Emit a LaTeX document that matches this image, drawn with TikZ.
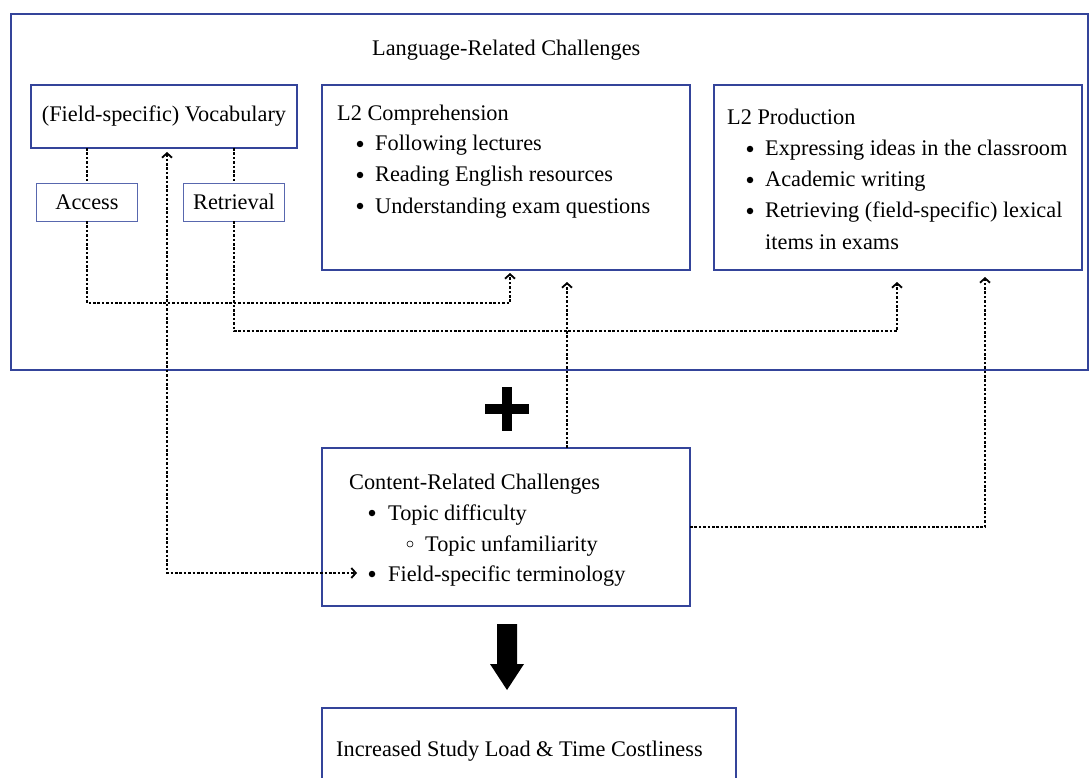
\documentclass[tikz,border=0pt]{standalone}
\usepackage{fontspec}
\setmainfont{Liberation Serif}
\usetikzlibrary{arrows.meta,calc}
\definecolor{boxblue}{HTML}{34449A}
\definecolor{lightblue}{HTML}{5867AE}
\begin{document}
\begin{tikzpicture}[x=1pt,y=-1pt,
  box/.style={draw=boxblue,line width=1.4pt,inner sep=0pt,outer sep=0pt},
  smallbox/.style={draw=lightblue,line width=0.9pt,inner sep=0pt,outer sep=0pt,font=\fontsize{22.3}{31}\selectfont},
  txt/.style={anchor=base west,inner sep=0pt,font=\fontsize{22.3}{31}\selectfont},
  barb/.tip={Straight Barb[length=4.5pt,width=10pt,line width=1.8pt]},
  dotline/.style={line width=2.6pt,dash pattern=on 2.6pt off 1.8pt},
  tip/.style={-barb},
  bul/.style={fill=black,circle,inner sep=0pt,minimum size=6.5pt},
  subbul/.style={draw=black,line width=0.6pt,circle,inner sep=0pt,minimum size=6pt}
]
\useasboundingbox (0,0) rectangle (1089,778);
\fill[white] (0,0) rectangle (1089,778);

% boxes
\node[box,minimum width=1077pt,minimum height=356pt] (outer) at (549.5,192) {};
\node[box,minimum width=266pt,minimum height=63pt,font=\fontsize{22.3}{31}\selectfont] (vocab) at (164,116.5) {(Field-specific) Vocabulary};
\node[smallbox,minimum width=101pt,minimum height=38pt] (access) at (87,202) {Access};
\node[smallbox,minimum width=101pt,minimum height=38pt] (retr) at (234,202) {Retrieval};
\node[box,minimum width=368pt,minimum height=185pt] (comp) at (506,177.5) {};
\node[box,minimum width=368pt,minimum height=185pt] (prod) at (898,177.5) {};
\node[box,minimum width=368pt,minimum height=158pt] (content) at (506,527) {};
\node[box,minimum width=414pt,minimum height=100pt] (final) at (529,758) {};

% texts
\node[txt] (title) at (372,56) {Language-Related Challenges};

\node[txt] (ct) at (337,121) {L2 Comprehension};
\node[txt] (c1) at (375,151) {Following lectures};
\node[txt] (c2) at (375,182) {Reading English resources};
\node[txt] (c3) at (375,213) {Understanding exam questions};
\node[bul] (cb1) at (360,144) {};
\node[bul] (cb2) at (360,175) {};
\node[bul] (cb3) at (360,206) {};

\node[txt] (pt) at (727,125) {L2 Production};
\node[txt] (p1) at (765,156) {Expressing ideas in the classroom};
\node[txt] (p2) at (765,187) {Academic writing};
\node[txt] (p3) at (765,218) {Retrieving (field-specific) lexical};
\node[txt] (p4) at (765,249) {items in exams};
\node[bul] (pb1) at (750,149) {};
\node[bul] (pb2) at (750,180) {};
\node[bul] (pb3) at (750,211) {};

\node[txt] (kt) at (349,489) {Content-Related Challenges};
\node[txt] (k1) at (388,520) {Topic difficulty};
\node[txt] (k2) at (425,551) {Topic unfamiliarity};
\node[txt] (k3) at (388,581) {Field-specific terminology};
\node[bul] (kb1) at (372,513) {};
\node[subbul] (kb2) at (410,544) {};
\node[bul] (kb3) at (372,574) {};

\node[txt] (ft) at (336,756) {Increased Study Load \& Time Costliness};

% plus sign and down arrow
\fill[black] (485,404) rectangle (529,414);
\fill[black] (502,387) rectangle (512,431);
\fill[black] (497,624) -- (517,624) -- (517,664) -- (524,664) -- (507,690) -- (490,664) -- (497,664) -- cycle;

% connectors
\draw[dotline] (vocab.south -| access.north) -- (access.north);
\draw[dotline] (vocab.south -| retr.north) -- (retr.north);

\coordinate (a1) at ($(comp.south west)+(188,3)$);
\draw[tip,dotline] (access.south) |- ($(access.south)+(0,82)$) -| (a1);

\coordinate (r1) at ($(prod.south west)+(183,12)$);
\draw[tip,dotline] (retr.south) |- ($(retr.south)+(0,110)$) -| (r1);

\coordinate (k0) at ($(content.north west)+(245,0)$);
\coordinate (k1e) at ($(comp.south west)+(245,12)$);
\draw[tip,dotline] (k0) -- (k1e);

\coordinate (k2e) at ($(prod.south west)+(271,7)$);
\draw[tip,dotline] (content.east) -| (k2e);

\coordinate (v1) at ($(vocab.south west)+(136,4)$);
\coordinate (v2) at ($(content.west)+(35,46)$);
\draw[barb-barb,dotline] (v1) |- (v2);
\end{tikzpicture}
\end{document}
